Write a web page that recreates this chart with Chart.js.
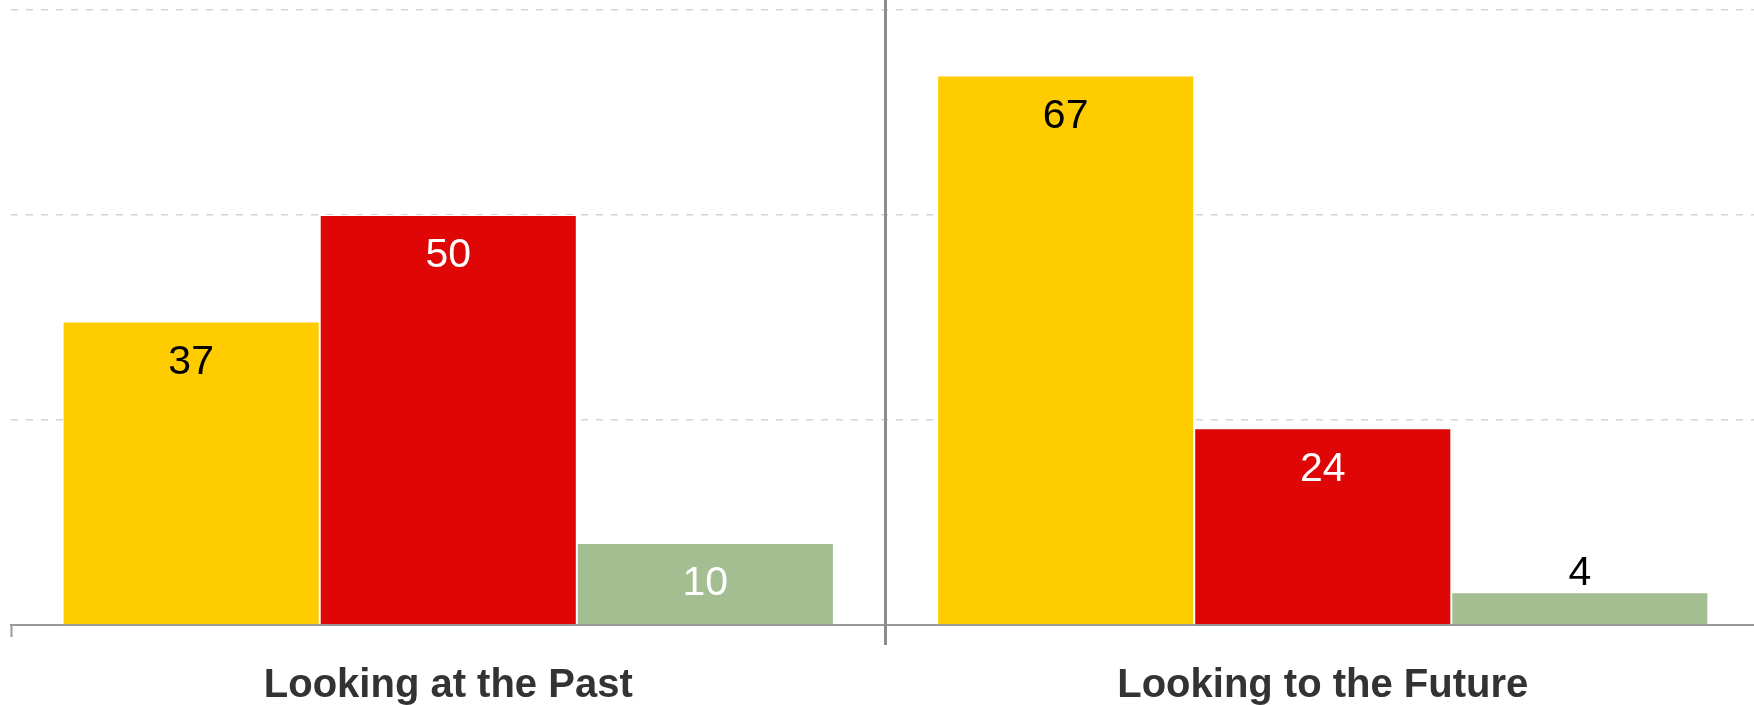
<!DOCTYPE html>
<html>
<head>
<meta charset="utf-8">
<script src="https://cdn.jsdelivr.net/npm/chart.js@4"></script>
<style>
  html, body { margin: 0; padding: 0; background: #fff; overflow: hidden; }
  #wrap { width: 1754px; height: 705px; overflow: hidden; }
</style>
</head>
<body>
<div id="wrap"><canvas id="chart" width="1760" height="705"></canvas></div>
<script>
const categories = ['Looking at the Past', 'Looking to the Future'];
const seriesNames = ['Series 1', 'Series 2', 'Series 3'];
const series1 = [37, 67];
const series2 = [50, 24];
const series3 = [10, 4];
const yTicks = [0, 25, 50, 75];

const barColors = ['#ffcc00', '#de0705', '#a3be90'];
const insideLabelColors = ['#000000', '#ffffff', '#ffffff'];

// value labels drawn inside the bar top, or above it when the bar is too short
const valueLabels = {
  id: 'valueLabels',
  afterDatasetsDraw(chart) {
    const ctx = chart.ctx;
    ctx.save();
    ctx.font = '41px "Liberation Sans", Arial, sans-serif';
    ctx.textAlign = 'center';
    ctx.textBaseline = 'middle';
    chart.data.datasets.forEach((ds, i) => {
      chart.getDatasetMeta(i).data.forEach((bar, j) => {
        const h = bar.base - bar.y;
        if (h > 60) {
          ctx.fillStyle = insideLabelColors[i];
          ctx.fillText(ds.data[j], bar.x, bar.y + 41);
        } else {
          ctx.fillStyle = '#000000';
          ctx.fillText(ds.data[j], bar.x, bar.y - 19);
        }
      });
    });
    ctx.restore();
  }
};

// vertical divider between the two groups
const divider = {
  id: 'divider',
  beforeDatasetsDraw(chart) {
    const x = chart.scales.x;
    const px = (x.getPixelForValue(0) + x.getPixelForValue(1)) / 2;
    const ctx = chart.ctx;
    ctx.save();
    ctx.strokeStyle = '#8c8c8c';
    ctx.lineWidth = 3;
    ctx.beginPath();
    ctx.moveTo(px, 0);
    ctx.lineTo(px, chart.chartArea.bottom + 20);
    ctx.stroke();
    ctx.restore();
  }
};

new Chart(document.getElementById('chart'), {
  type: 'bar',
  data: {
    labels: categories,
    datasets: [series1, series2, series3].map((d, i) => ({
      label: seriesNames[i],
      data: d,
      backgroundColor: barColors[i],
      borderColor: '#ffffff',
      borderWidth: 1,
      borderSkipped: 'bottom',
      categoryPercentage: 0.882,
      barPercentage: 1.0
    }))
  },
  options: {
    responsive: false,
    animation: false,
    layout: { padding: { left: 11, top: 10, right: 0, bottom: 0 } },
    plugins: { legend: { display: false }, tooltip: { enabled: false } },
    scales: {
      x: {
        afterFit: axis => { axis.height = 80; },
        grid: {
          offset: true,
          drawOnChartArea: false,
          drawTicks: true,
          tickLength: 12,
          tickColor: '#999999',
          tickWidth: 2
        },
        border: { display: true, color: '#999999', width: 2 },
        ticks: {
          color: '#333333',
          padding: 25,
          font: { family: '"Liberation Sans", Arial, sans-serif', size: 40, weight: 'bold' }
        }
      },
      y: {
        min: yTicks[0],
        max: yTicks[yTicks.length - 1],
        afterBuildTicks: axis => { axis.ticks = yTicks.map(v => ({ value: v })); },
        afterFit: axis => { axis.width = 0; },
        ticks: { display: false },
        border: { display: false, dash: [7, 8] },
        grid: { color: '#d4d4d4', lineWidth: 1.5, drawTicks: false }
      }
    }
  },
  plugins: [divider, valueLabels]
});
</script>
</body>
</html>
